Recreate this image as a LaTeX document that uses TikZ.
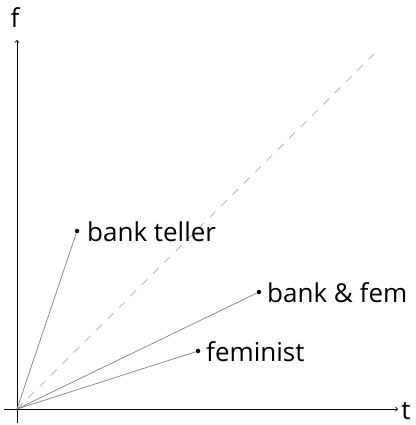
\documentclass[tikz,border=0pt]{standalone}
\usepackage{fontspec}
\setmainfont{Open Sans}
\begin{document}
\begin{tikzpicture}[x=1pt,y=-1pt,
  axis/.style={line width=0.8pt,->,>=to},
  ray/.style={gray,line width=0.7pt},
  diag/.style={gray!60,line width=0.8pt,dash pattern=on 8pt off 8pt},
  pt/.style={circle,fill=black,inner sep=0pt,minimum size=4.5pt},
  lbl/.style={font=\fontsize{26}{28}\selectfont,anchor=base west,inner sep=0pt}]
\useasboundingbox (0,0) rectangle (415,425);
\coordinate (O) at (17,409);
\coordinate (xs) at (4,409);
\coordinate (xe) at (398,409);
\coordinate (ys) at (17,423);
\coordinate (ye) at (17,40);
\coordinate (D) at (380,48);
\draw[axis] (xs) -- (xe);
\draw[axis] (ys) -- (ye);
\node[font=\fontsize{26}{28}\selectfont,inner sep=0pt,anchor=base] (f) at (15,28) {f};
\node[font=\fontsize{26}{28}\selectfont,inner sep=0pt,anchor=base] (t) at (406,419) {t};
\draw[diag] (O) -- (D);
\node[pt] (bt) at (77,231) {};
\node[pt] (bf) at (259,292) {};
\node[pt] (fe) at (198,351) {};
\draw[ray] (O) -- (bt);
\draw[ray] (O) -- (bf);
\draw[ray] (O) -- (fe);
\node[lbl] (lbt) at (87,241) {bank teller};
\node[lbl] (lbf) at (267,302) {bank \& fem};
\node[lbl] (lfe) at (206,361) {feminist};
\end{tikzpicture}
\end{document}
